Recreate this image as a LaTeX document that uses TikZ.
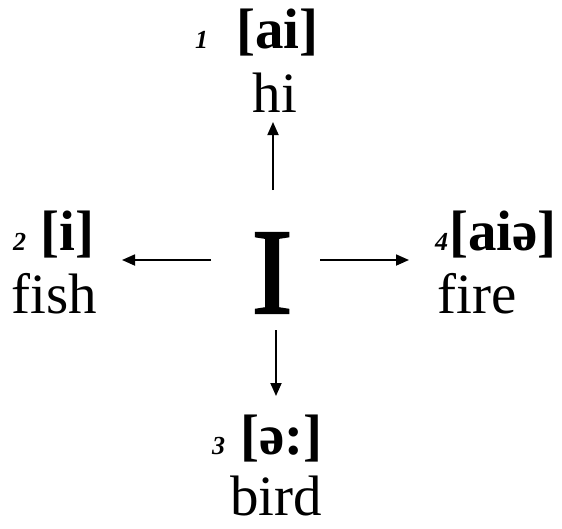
\documentclass[tikz,border=0pt]{standalone}
\usepackage{fontspec}
\setmainfont{Liberation Serif}
\newfontfamily\bigIfont{Liberation Serif}[FakeBold=2]
\usetikzlibrary{arrows.meta}
\begin{document}
\begin{tikzpicture}[x=1pt,y=-1pt,
  lab/.style={inner sep=0pt, font=\fontsize{57}{60}\selectfont},
  blab/.style={inner sep=0pt, font=\fontsize{57}{60}\selectfont\bfseries},
  num/.style={inner sep=0pt, font=\fontsize{26}{28}\selectfont\bfseries\itshape},
  arr/.style={line width=1.8pt, -{Triangle[length=13pt,width=11pt]}}]
\useasboundingbox (0,0) rectangle (562,528);
% center
\node[inner sep=0pt, anchor=base, font=\fontsize{122}{130}\bigIfont] (I) at (272,313) {I};
% top
\node[num, anchor=base west] (n1) at (195,48) {1};
\node[blab, anchor=base west] (ai) at (236,48) {[ai]};
\node[lab, anchor=base] (hi) at (275,112) {hi};
% left
\node[num, anchor=base west] (n2) at (13,250) {2};
\node[blab, anchor=base west] (i) at (40,250) {[i]};
\node[lab, anchor=base west] (fish) at (11,313) {fish};
% right
\node[num, anchor=base west] (n4) at (435,250) {4};
\node[blab, anchor=base west] (aie) at (449,250) {[aiə]};
\node[lab, anchor=base west] (fire) at (437,313) {fire};
% bottom
\node[num, anchor=base west] (n3) at (212,454) {3};
\node[blab, anchor=base west] (e) at (240,454) {[ə:]};
\node[lab, anchor=base west] (bird) at (230,515) {bird};
% arrows
\coordinate (uA) at (273,190); \coordinate (uB) at (273,122);
\coordinate (lA) at (211,260); \coordinate (lB) at (122,260);
\coordinate (rA) at (320,260); \coordinate (rB) at (409,260);
\coordinate (dA) at (276,330); \coordinate (dB) at (276,396);
\draw[arr] (uA) -- (uB);
\draw[arr] (lA) -- (lB);
\draw[arr] (rA) -- (rB);
\draw[arr] (dA) -- (dB);
\end{tikzpicture}
\end{document}
